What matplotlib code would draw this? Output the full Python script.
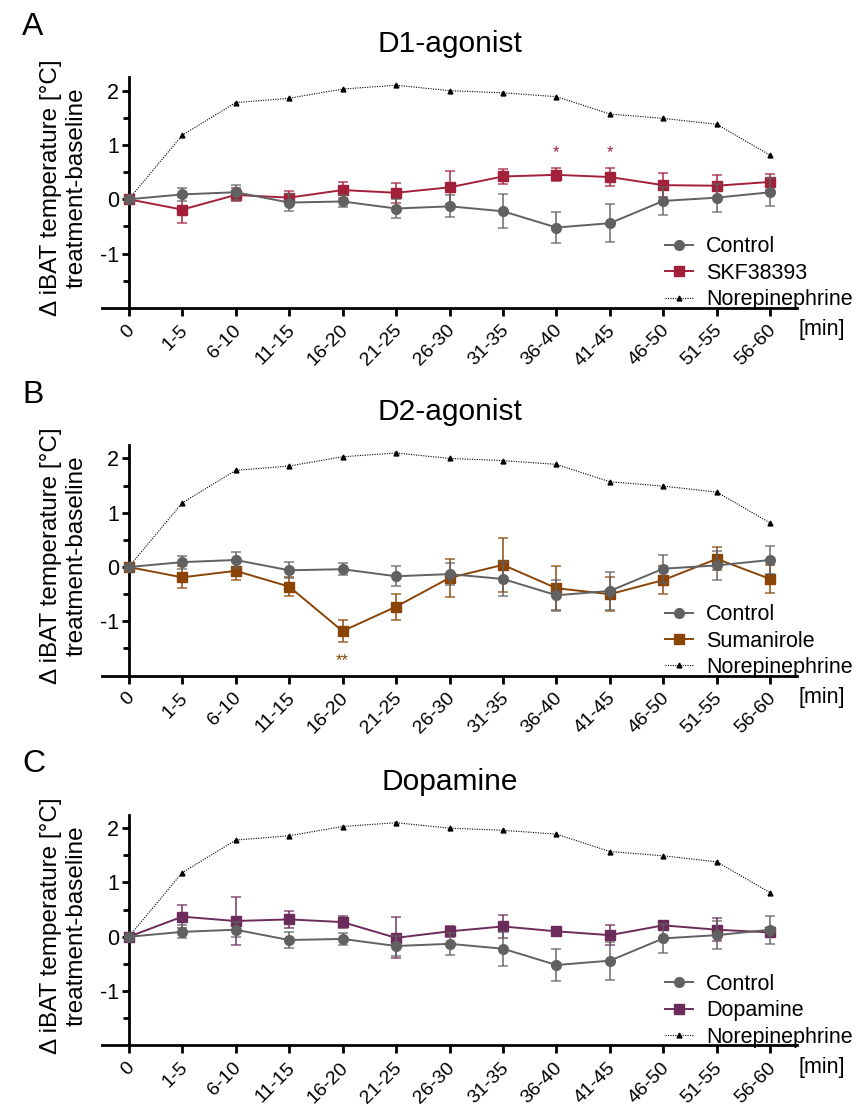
import matplotlib
matplotlib.use("Agg")
import matplotlib.pyplot as plt
import matplotlib.transforms as mtransforms
from matplotlib.ticker import FixedLocator

plt.rcParams['font.family'] = ['Liberation Sans', 'DejaVu Sans']

# --- Data ---
groups = ['0', '1-5', '6-10', '11-15', '16-20', '21-25', '26-30',
          '31-35', '36-40', '41-45', '46-50', '51-55', '56-60']

norepinephrine = [0, 1.18, 1.78, 1.86, 2.03, 2.10, 2.00, 1.96, 1.89, 1.57, 1.49, 1.38, 0.81]

control_mean = [0, 0.09, 0.13, -0.06, -0.04, -0.17, -0.13, -0.22, -0.52, -0.44, -0.03, 0.03, 0.13]
control_sem = [0, 0.12, 0.14, 0.15, 0.11, 0.18, 0.20, 0.31, 0.29, 0.35, 0.26, 0.26, 0.26]

skf_mean = [0, -0.19, 0.08, 0.03, 0.17, 0.12, 0.22, 0.42, 0.45, 0.41, 0.26, 0.25, 0.32]
skf_sem = [0, 0.24, 0.12, 0.12, 0.14, 0.18, 0.30, 0.14, 0.12, 0.16, 0.22, 0.20, 0.14]

sumanirole_mean = [0, -0.19, -0.07, -0.36, -1.18, -0.73, -0.20, 0.04, -0.39, -0.50, -0.24, 0.15, -0.22]
sumanirole_sem = [0, 0.20, 0.17, 0.18, 0.20, 0.24, 0.35, 0.50, 0.40, 0.31, 0.25, 0.21, 0.25]

dopamine_mean = [0, 0.37, 0.29, 0.32, 0.27, -0.02, 0.10, 0.19, 0.10, 0.03, 0.21, 0.13, 0.08]
dopamine_sem = [0, 0.21, 0.45, 0.16, 0.11, 0.38, 0.10, 0.22, 0.08, 0.18, 0.03, 0.21, 0.06]

# significance marks: (group index, y position, text)
sig_skf = [(8, 0.86, '*'), (9, 0.86, '*')]
sig_sumanirole = [(4, -1.72, '**')]

panels = [
    ('A', 'D1-agonist', 'SKF38393', skf_mean, skf_sem, '#a3203b', sig_skf, 0.7216),
    ('B', 'D2-agonist', 'Sumanirole', sumanirole_mean, sumanirole_sem, '#8a4506', sig_sumanirole, 0.3891),
    ('C', 'Dopamine', 'Dopamine', dopamine_mean, dopamine_sem, '#6c2c5b', [], 0.0548),
]

control_color = '#616161'
x = list(range(len(groups)))

fig = plt.figure(figsize=(8.57, 11.06), dpi=100)

for letter, title, drug, mean, sem, color, sigs, bottom in panels:
    ax = fig.add_axes([102 / 857, bottom, 695 / 857, 0.2087])

    # Norepinephrine reference
    ax.plot(x, norepinephrine, color='black', lw=0.8, ls=(0, (1, 1.2)),
            marker='^', ms=3.5, label='Norepinephrine', zorder=2)

    # treatment
    ax.errorbar(x, mean, yerr=sem, fmt='none', ecolor=color, alpha=0.75,
                elinewidth=1.4, capsize=3.5, capthick=1.2, zorder=3)
    ax.plot(x, mean, color=color, lw=1.4, marker='s', ms=6.5, label=drug, zorder=4)

    # control
    ax.errorbar(x, control_mean, yerr=control_sem, fmt='none', ecolor=control_color,
                alpha=0.75, elinewidth=1.4, capsize=3.5, capthick=1.2, zorder=5)
    ax.plot(x, control_mean, color=control_color, lw=1.4, marker='o', ms=7,
            label='Control', zorder=6)

    for xi, yi, txt in sigs:
        ax.text(xi, yi, txt, color=color, fontsize=12, ha='center', va='center')

    ax.set_xlim(-0.5, 12.5)
    ax.set_ylim(-2, 2.25)

    ax.spines['top'].set_visible(False)
    ax.spines['right'].set_visible(False)
    ax.spines['left'].set_position(('data', 0))
    ax.spines['left'].set_linewidth(2)
    ax.spines['bottom'].set_linewidth(2)

    ax.yaxis.set_major_locator(FixedLocator([-1, 0, 1, 2]))
    ax.yaxis.set_minor_locator(FixedLocator([-1.5, -0.5, 0.5, 1.5]))
    ax.set_yticklabels(['-1', '0', '1', '2'])
    ax.tick_params(axis='y', which='major', length=5, width=2, labelsize=15.5, pad=2)
    ax.tick_params(axis='y', which='minor', length=4, width=2)

    ax.set_xticks(x)
    ax.set_xticklabels(groups, rotation=45, ha='right', va='top', rotation_mode='anchor')
    ax.tick_params(axis='x', length=6, width=2, labelsize=14, pad=4)
    offset = mtransforms.ScaledTranslation(-3 / 100, 0, fig.dpi_scale_trans)
    for lbl in ax.get_xticklabels():
        lbl.set_transform(lbl.get_transform() + offset)

    ax.set_title(title, fontsize=21.5, pad=18)
    ax.set_ylabel('Δ iBAT temperature [°C]\ntreatment-baseline', fontsize=17.5,
                  linespacing=1.25)
    ax.yaxis.set_label_coords(-0.02, 0.52)

    ax.annotate('[min]', xy=(1, 0), xycoords='axes fraction', xytext=(1, -22),
                textcoords='offset pixels', fontsize=15.5, ha='left', va='center')

    handles, labels = ax.get_legend_handles_labels()
    order = [2, 1, 0]
    ax.legend([handles[i] for i in order], [labels[i] for i in order],
              loc='lower left', bbox_to_anchor=(0.81, -0.01), frameon=False,
              fontsize=15.5, handlelength=1.3, handletextpad=0.6,
              labelspacing=0.25, borderpad=0, borderaxespad=0)

    fig.text(22 / 857, bottom + 273 / 1106, letter, fontsize=23, ha='left', va='baseline')

fig.savefig('out.png', dpi=100)
